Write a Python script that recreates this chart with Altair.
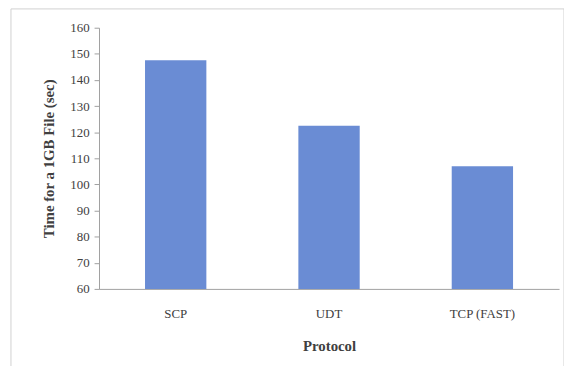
import altair as alt
import pandas as pd

protocols = ["SCP", "UDT", "TCP (FAST)"]
times = [147.5, 122.5, 107]

df = pd.DataFrame({"Protocol": protocols, "Time": times})

frame = alt.Chart(pd.DataFrame({"a": [0]})).mark_rect(
    fill=None, stroke="#d0d0d0", strokeWidth=1
).encode(
    x=alt.value(-89), x2=alt.value(470), y=alt.value(-19), y2=alt.value(360)
)

bars = alt.Chart(df).mark_bar(color="#6a8cd4", clip=True).encode(
    x=alt.X("Protocol:N", sort=protocols,
            scale=alt.Scale(paddingInner=0.6, paddingOuter=0.3),
            axis=alt.Axis(title="Protocol", labelAngle=0, ticks=False,
                          labelPadding=19, titlePadding=18,
                          domainColor="#a0a0a0")),
    y=alt.Y("Time:Q", scale=alt.Scale(domain=[60, 160], nice=False, zero=False),
            axis=alt.Axis(title="Time for a 1GB File (sec)", values=list(range(60, 161, 10)),
                          grid=False, tickSize=5, tickColor="#a0a0a0", domainColor="#a0a0a0",
                          labelPadding=5, titlePadding=14)),
)

serif = "Times New Roman, Liberation Serif, serif"

chart = alt.layer(frame, bars).properties(
    width=465, height=264,
    autosize=alt.AutoSizeParams(type="none"),
    padding={"left": 92, "top": 18, "right": 5, "bottom": 76},
).configure_view(stroke=None).configure_axis(
    labelFont=serif, titleFont=serif,
    labelFontSize=13, titleFontSize=15, labelColor="#404040", titleColor="#404040",
    titleFontWeight="bold"
)

chart.save("out.html", embed_options={"renderer": "svg", "actions": False})
